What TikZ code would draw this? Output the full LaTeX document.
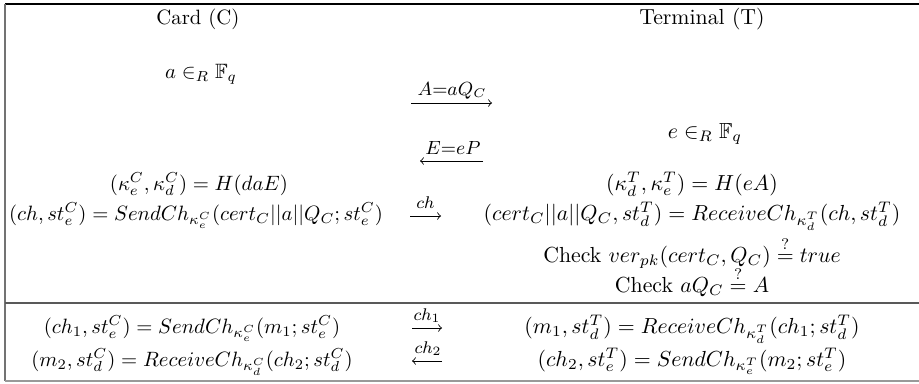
\documentclass[tikz,border=0pt]{standalone}
\usepackage{amsmath,amssymb,graphicx}
\newcommand{\Lside}[1]{\scalebox{0.98}{#1}}
\newcommand{\Rside}[1]{\scalebox{1.03}{#1}}
\begin{document}
\begin{tikzpicture}[x=0.4726pt,y=-0.4726pt,
  txt/.style={inner sep=0pt,anchor=base},
  lbl/.style={inner sep=0pt,anchor=base,font=\footnotesize},
  biglbl/.style={inner sep=0pt,anchor=base,font=\small},
  msg/.style={->,line width=0.4pt},
  rule/.style={line width=0.6pt}]
\useasboundingbox (0,0) rectangle (919,383);
% frame
\coordinate (tl) at (5,4);  \coordinate (tr) at (919,4);
\coordinate (ml) at (5,303); \coordinate (mr) at (919,303);
\coordinate (bl) at (5,381); \coordinate (br) at (919,381);
\draw[line width=0.8pt,black] (tl) -- (tr);
\draw[rule,black!55] (tl) -- (bl);
\draw[rule,black!65] (ml) -- (mr);
\draw[rule,black!40] (bl) -- (br);
% headers
\node[txt] (card) at (198,24) {\Lside{Card (C)}};
\node[txt] (term) at (702,24) {\Rside{Terminal (T)}};
% card side
\node[txt] (a) at (201,78) {\Lside{$a \in_R \mathbb{F}_q$}};
\node[txt] (kC) at (199,190) {\Lside{$(\kappa_e^C,\kappa_d^C) = H(daE)$}};
\node[txt] (sC) at (196,220) {\Lside{$(ch, st_e^C) = SendCh_{\kappa_e^C}(cert_C||a||Q_C; st_e^C)$}};
% terminal side
\node[txt] (e) at (705,138) {\Rside{$e \in_R \mathbb{F}_q$}};
\node[txt] (kT) at (692,190) {\Rside{$(\kappa_d^T,\kappa_e^T) = H(eA)$}};
\node[txt] (rT) at (692,220) {\Rside{$(cert_C||a||Q_C, st_d^T) = ReceiveCh_{\kappa_d^T}(ch, st_d^T)$}};
\node[txt] (c1) at (692,262) {\Rside{Check $ver_{pk}(cert_C, Q_C) \stackrel{?}{=} true$}};
\node[txt] (c2) at (692,292) {\Rside{Check $aQ_C \stackrel{?}{=} A$}};
% messages
\coordinate (A1) at (411,103); \coordinate (A2) at (492,103);
\draw[msg] (A1) -- (A2);
\node[biglbl] (Al) at (452,95) {$A{=}aQ_C$};
\coordinate (E1) at (483,161); \coordinate (E2) at (420,161);
\draw[msg] (E1) -- (E2);
\node[biglbl] (El) at (453,154) {$E{=}eP$};
\coordinate (ch1a) at (410,216); \coordinate (ch1b) at (441,216);
\draw[msg] (ch1a) -- (ch1b);
\node[lbl] (chl) at (425.5,208) {$ch$};
% bottom part
\node[txt] (b1) at (192,333) {\Lside{$(ch_1, st_e^C) = SendCh_{\kappa_e^C}(m_1; st_e^C)$}};
\node[txt] (b2) at (692,333) {\Rside{$(m_1, st_d^T) = ReceiveCh_{\kappa_d^T}(ch_1; st_d^T)$}};
\node[txt] (b3) at (192,366) {\Lside{$(m_2, st_d^C) = ReceiveCh_{\kappa_d^C}(ch_2; st_d^C)$}};
\node[txt] (b4) at (692,366) {\Rside{$(ch_2, st_e^T) = SendCh_{\kappa_e^T}(m_2; st_e^T)$}};
\coordinate (m1a) at (412,328); \coordinate (m1b) at (442,328);
\draw[msg] (m1a) -- (m1b);
\node[lbl] (m1l) at (427,320) {$ch_1$};
\coordinate (m2a) at (442,361); \coordinate (m2b) at (412,361);
\draw[msg] (m2a) -- (m2b);
\node[lbl] (m2l) at (428,353) {$ch_2$};
\end{tikzpicture}
\end{document}
